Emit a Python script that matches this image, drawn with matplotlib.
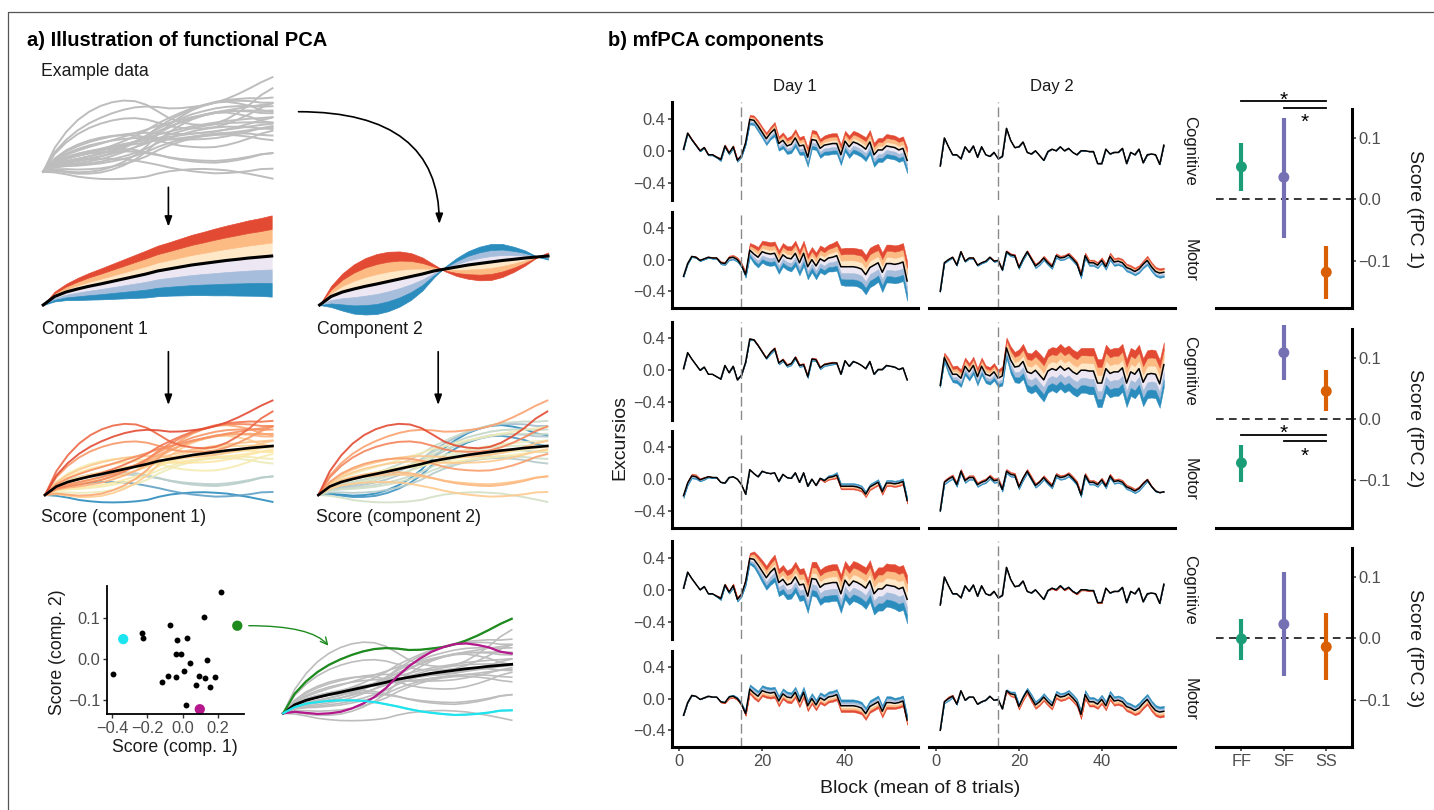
import numpy as np
import matplotlib
matplotlib.use("Agg")
import matplotlib.pyplot as plt
from matplotlib.colors import LinearSegmentedColormap, Normalize
from matplotlib.ticker import FuncFormatter

plt.rcParams["font.family"] = ["Liberation Sans", "DejaVu Sans"]

# ── Panel a: illustration data ───────────────────────────────────────────
# mean curve and the two component functions (in pixel units), 21 time steps
mean_a = [0, 8.5, 13, 16, 18.7, 21, 23.5, 26, 28.5, 31, 34, 36, 38, 40, 41.5,
          43, 44.5, 45.7, 47, 48, 49]
phi1_a = [0, 17, 28, 38, 46, 53, 60, 67, 74, 81, 87, 92, 98, 104, 109, 115,
          120, 125, 130, 134, 140]
phi2_a = [0, 70, 124, 164, 188, 200, 198, 184, 156, 110, 44, -16, -60, -92,
          -112, -120, -110, -84, -50, -4, 24]
# subject scores (scatter plot)
score1 = [-0.393, -0.228, -0.226, -0.337, -0.072, -0.032, 0.028, -0.037, -0.009,
          0.122, 0.218, 0.311, 0.139, 0.042, 0.007, -0.085, -0.037, -0.115,
          0.094, 0.126, 0.187, 0.078, 0.155, 0.018, 0.098]
score2 = [-0.037, 0.065, 0.052, 0.049, 0.084, 0.048, 0.051, 0.012, 0.012,
          0.103, 0.166, 0.082, -0.002, -0.011, -0.030, -0.041, -0.045, -0.058,
          -0.041, -0.048, -0.044, -0.063, -0.070, -0.114, -0.124]
hl_idx = [11, 24, 3]
hl_cols = ["#1E8B1E", "#B5178C", "#1DE5F0"]
band_a = [0.29, 0.15]   # outer excursion (score units) for comp 1 / comp 2

# ── Panel b: mean curves per task / day (55 blocks) ──────────────────────
blocks = np.arange(1, 56)
mean_cog_d1 = [0.02, 0.22, 0.14, 0.07, 0.00, 0.04, -0.05, -0.05, -0.08, -0.11,
               0.06, -0.03, 0.05, -0.12, -0.06, 0.10, 0.39, 0.38, 0.31, 0.23,
               0.15, 0.22, 0.27, 0.09, 0.13, 0.06, 0.08, 0.16, 0.06, 0.07,
               -0.08, 0.14, 0.13, 0.03, 0.07, 0.08, 0.09, 0.09, -0.05, 0.12,
               0.05, 0.11, 0.09, 0.06, 0.02, 0.11, -0.05, 0.01, 0.01, 0.06,
               0.05, 0.04, 0.01, 0.03, -0.12]
mean_mot_d1 = [-0.21, -0.05, 0.04, 0.03, -0.01, 0.01, 0.03, 0.02, 0.02, -0.04,
               -0.05, 0.02, 0.03, 0.00, -0.07, -0.19, 0.12, 0.07, 0.03, 0.10,
               0.08, 0.07, 0.08, -0.03, 0.06, 0.02, 0.01, 0.08, -0.04, 0.08,
               -0.09, 0.00, -0.08, 0.01, -0.02, 0.02, 0.03, 0.05, -0.09, -0.09,
               -0.09, -0.09, -0.10, -0.12, -0.19, -0.10, -0.07, -0.04, -0.16, -0.05,
               -0.05, -0.06, -0.05, -0.03, -0.27]
mean_cog_d2 = [-0.19, 0.16, 0.05, -0.05, -0.05, -0.10, 0.05, -0.02, 0.06, -0.08,
               0.05, -0.05, -0.07, -0.02, -0.10, -0.07, 0.28, 0.13, 0.04, 0.05,
               0.11, -0.02, -0.04, 0.00, -0.06, -0.12, -0.01, 0.02, 0.00, 0.05,
               0.00, 0.03, -0.02, -0.05, 0.00, 0.00, -0.01, -0.01, -0.16, -0.16,
               0.02, -0.04, -0.02, -0.02, 0.03, -0.16, -0.02, -0.05, 0.02, -0.15,
               -0.05, -0.04, -0.05, -0.17, 0.07]
mean_mot_d2 = [-0.40, -0.04, 0.00, 0.03, -0.07, 0.10, -0.02, 0.02, 0.02, -0.07,
               -0.04, -0.02, 0.03, -0.02, -0.01, -0.13, 0.10, 0.06, 0.05, -0.10,
               0.01, 0.10, 0.01, -0.08, -0.04, 0.02, -0.04, -0.09, 0.05, 0.02,
               0.03, 0.06, 0.01, -0.05, -0.20, 0.05, -0.04, -0.04, -0.07, -0.01,
               -0.09, 0.04, -0.03, -0.02, -0.04, -0.10, -0.12, -0.15, -0.12, -0.06,
               -0.01, -0.09, -0.15, -0.17, -0.16]

# outer excursion (hundredths) per fPC / task / day; sign: + means red on top
a1_cog_d1 = [1, 1, 1, 1, 1, 1, 1, 1, 1, 2, 2, 2, 2, 2, 2, 3, 6, 6, 7, 7,
             8, 8, 9, 9, 10, 10, 11, 11, 11, 12, 12, 12, 12, 12, 12, 13, 13, 13, 13, 13,
             14, 14, 14, 14, 15, 15, 15, 15, 15, 15, 15, 15, 15, 15, 16]
a1_mot_d1 = [1, 1, 1, 1, 1, 1, 1, 1, 1, 2, 2, 3, 3, 3, 3, 4, 9, 12, 13, 14,
             15, 15, 15, 15, 15, 15, 16, 16, 16, 16, 16, 16, 17, 17, 17, 17, 18, 19, 23, 24,
             24, 24, 24, 25, 25, 25, 25, 24, 25, 24, 24, 24, 24, 24, 25]
a1_cog_d2 = [0] * 55
a1_mot_d2 = [1, 1, 1, 1, 1, 1, 1, 1, 1, 1, 1, 1, 1, 1, 1, 1, 2, 2, 2, 2,
             2, 2, 2, 3, 3, 3, 3, 3, 3, 3, 3, 3, 3, 3, 4, 4, 4, 4, 4, 4,
             4, 5, 5, 5, 5, 5, 5, 5, 5, 5, 6, 6, 6, 6, 6]
a2_cog_d1 = [0, 0, 0, 0, 0, 0, 0, 0, 0, 0, 0, 0, 0, 0, 0, 0, 1, 1, 1, 1,
             1, 2, 2, 2, 2, 2, 2, 2, 2, 2, 2, 2, 2, 2, 2, 2, 2, 1, 0, 0,
             0, 0, 0, 0, 0, 0, 0, 0, 0, 0, 0, 0, 0, 0, 0]
a2_mot_d1 = [3, 3, 3, 3, 2, 2, 1, 1, 1, 0, 0, 0, 0, 0, 0, 0, 0, 0, 0, 0,
             0, 0, 0, 0, 0, 0, 0, 0, 0, 0, 0, 0, 0, -1, -2, -3, -3, -4, -4, -4,
             -4, -4, -4, -4, -4, -4, -4, -4, -4, -4, -4, -4, -4, -4, -4]
a2_cog_d2 = [2, 6, 10, 10, 11, 11, 11, 11, 11, 11, 11, 11, 11, 11, 11, 12, 13, 17, 19, 21,
             22, 24, 25, 26, 27, 27, 27, 27, 28, 28, 28, 28, 28, 28, 28, 28, 29, 29, 30, 30,
             30, 30, 30, 30, 30, 30, 30, 30, 30, 30, 30, 30, 30, 30, 28]
a2_mot_d2 = [1, 3, 3, 3, 3, 3, 3, 3, 3, 3, 3, 3, 3, 3, 3, 3, 3, 3, 3, 3,
             3, 3, 3, 3, 3, 3, 3, 3, 3, 3, 3, 3, 3, 3, 3, 3, 3, 3, 3, 3,
             3, 3, 3, 3, 3, 3, 3, 3, 3, 3, 2, 1, 1, 0, 0]
a3_cog_d1 = [0, 0, 0, 0, 0, 0, 0, 0, 1, 2, 2, 2, 3, 3, 3, 5, 7, 10, 12, 14,
             15, 16, 17, 17, 18, 18, 19, 19, 20, 20, 21, 21, 22, 22, 22, 23, 23, 23, 24, 24,
             24, 25, 25, 25, 26, 26, 26, 27, 27, 27, 27, 28, 28, 28, 30]
a3_mot_d1 = [0, 0, 0, 0, 0, 0, 0, 0, 0, -1, -1, -2, -2, -2, -2, -3, -6, -7, -7, -7,
             -7, -7, -7, -7, -7, -7, -7, -7, -7, -7, -7, -7, -7, -7, -7, -7, -7, -7, -8, -8,
             -8, -8, -8, -8, -8, -8, -8, -8, -8, -8, -8, -7, -7, -7, -6]
a3_cog_d2 = [0, 0, 0, 0, 0, 0, 0, 0, 0, 0, 0, 0, 0, 0, 0, 0, 0, 0, 0, 0,
             0, 0, 0, 0, 0, 0, 0, -1, -1, -1, -1, -1, -1, -1, -1, -1, -1, -1, -1, -1,
             0, 0, 0, 0, 0, 0, 0, 0, 0, 0, 0, 0, 0, 0, 0]
a3_mot_d2 = [0, 2, 3, 2, 1, 0, 0, 0, 0, 0, 0, 0, 0, 0, 0, 0, -2, -3, -4, -4,
             -4, -4, -5, -5, -5, -5, -5, -5, -5, -5, -5, -5, -5, -5, -6, -6, -6, -6, -6, -6,
             -6, -6, -6, -6, -6, -6, -6, -6, -7, -7, -7, -7, -7, -7, -7]

# group scores (point, lower, upper) per fPC
groups = ["FF", "SF", "SS"]
grp_cols = ["#1B9E77", "#7570B3", "#D95F02"]
fpc1_est = [0.053, 0.036, -0.119]
fpc1_lo = [0.014, -0.063, -0.163]
fpc1_hi = [0.092, 0.132, -0.076]
fpc2_est = [-0.072, 0.108, 0.045]
fpc2_lo = [-0.104, 0.063, 0.012]
fpc2_hi = [-0.042, 0.153, 0.079]
fpc3_est = [-0.001, 0.023, -0.014]
fpc3_lo = [-0.036, -0.061, -0.068]
fpc3_hi = [0.031, 0.108, 0.041]
# significance brackets (FF-SS, SF-SS): line heights and star heights
sig_pairs = [(1, 3), (2, 3)]
sig1_line = [0.160, 0.1485]
sig1_star = [0.172, 0.136]
sig2_line = [-0.027, -0.0356]
sig2_star = [-0.0138, -0.051]

# ── figure / layout helpers ──────────────────────────────────────────────
W, H = 1434, 810
fig = plt.figure(figsize=(W / 100, H / 100), dpi=100)

TXT = "#1A1A1A"
TICK_TXT = "#4D4D4D"
TICK_FS = 11.8
pos_cols = ["#FEE8C8", "#FDBB84", "#E34A33"]
neg_cols = ["#ECE7F2", "#A6BDDB", "#2B8CBE"]
levels = [0, 1 / 3, 2 / 3, 1]
fmt1 = FuncFormatter(lambda v, _: f"{v:.1f}".replace("-", "\u2212"))


def px_axes(x0, y0, x1, y1):
    return fig.add_axes([x0 / W, 1 - y1 / H, (x1 - x0) / W, (y1 - y0) / H])


def curve_axes(x0, x1, ystart):
    ax = px_axes(x0, ystart - 110, x1, ystart + 15)
    ax.set_xlim(0, 1)
    ax.set_ylim(-15, 110)
    ax.axis("off")
    return ax


def excursion_fill(ax, x, m, amp, ew=0.3):
    for i in range(3):
        ax.fill_between(x, m + levels[i] * amp, m + levels[i + 1] * amp,
                        color=pos_cols[i], lw=ew, ec=pos_cols[i])
        ax.fill_between(x, m - levels[i] * amp, m - levels[i + 1] * amp,
                        color=neg_cols[i], lw=ew, ec=neg_cols[i])


# ── Panel a ──────────────────────────────────────────────────────────────
t_a = np.linspace(0, 1, len(mean_a))
m_a = np.array(mean_a)
p1 = np.array(phi1_a)
p2 = np.array(phi2_a)
s1 = np.array(score1)
s2 = np.array(score2)
curves = m_a + s1[:, None] * p1 + s2[:, None] * p2

# example data
ax = curve_axes(43.2, 272.5, 171.7)
for c in curves:
    ax.plot(t_a, c, color="#BDBDBD", lw=1.4, clip_on=False)

# components
for phi, band, x0, x1 in [(p1, band_a[0], 43.2, 271.7), (p2, band_a[1], 319.6, 548)]:
    ax = curve_axes(x0, x1, 305)
    excursion_fill(ax, t_a, m_a, band * phi, ew=0.5)
    ax.plot(t_a, m_a, color="black", lw=2.2, clip_on=False)

# curves coloured by score
score_cmap = LinearSegmentedColormap.from_list(
    "sc", ["#2B8CBE", "#9CB9CE", "#E2EBC4", "#FDEBAA", "#FDB27A", "#F0714C", "#E34A33"])
for sv, x0, x1 in [(s1, 45, 272.5), (s2, 318.4, 547.3)]:
    ax = curve_axes(x0, x1, 495)
    norm = Normalize(sv.min(), sv.max())
    for i in np.argsort(sv):
        ax.plot(t_a, curves[i], color=score_cmap(norm(sv[i])), lw=1.4, alpha=0.9,
                clip_on=False)
    ax.plot(t_a, m_a, color="black", lw=1.9, clip_on=False)

# highlighted subjects
ax = curve_axes(283.2, 511.7, 713.3)
for c in curves:
    ax.plot(t_a, c, color="#BDBDBD", lw=1.2, clip_on=False)
ax.plot(t_a, m_a, color="black", lw=2, clip_on=False)
for i, col in zip(hl_idx, hl_cols):
    ax.plot(t_a, curves[i], color=col, lw=1.6, clip_on=False)

# scatter of scores
ax = px_axes(107.2, 586, 243.8, 714.3)
mask = np.ones(len(s1), bool)
mask[hl_idx] = False
ax.scatter(s1[mask], s2[mask], s=18, color="black", lw=0)
ax.scatter(s1[hl_idx], s2[hl_idx], s=55, c=hl_cols, lw=0)
ax.set_xlim(-0.428, 0.348)
ax.set_ylim(-0.1365, 0.18)
ax.set_xticks([-0.4, -0.2, 0.0, 0.2])
ax.set_yticks([-0.1, 0.0, 0.1])
ax.xaxis.set_major_formatter(fmt1)
ax.yaxis.set_major_formatter(fmt1)
for sp in ["top", "right"]:
    ax.spines[sp].set_visible(False)
for sp in ["left", "bottom"]:
    ax.spines[sp].set_linewidth(1.3)
ax.tick_params(length=3, width=1, color="#333333", labelcolor=TICK_TXT,
               labelsize=TICK_FS, pad=2)

# ── Panel b: excursion panels ────────────────────────────────────────────
exc_means = {("Cognitive", 1): mean_cog_d1, ("Motor", 1): mean_mot_d1,
             ("Cognitive", 2): mean_cog_d2, ("Motor", 2): mean_mot_d2}
exc_amps = [
    {("Cognitive", 1): a1_cog_d1, ("Motor", 1): a1_mot_d1,
     ("Cognitive", 2): a1_cog_d2, ("Motor", 2): a1_mot_d2},
    {("Cognitive", 1): a2_cog_d1, ("Motor", 1): a2_mot_d1,
     ("Cognitive", 2): a2_cog_d2, ("Motor", 2): a2_mot_d2},
    {("Cognitive", 1): a3_cog_d1, ("Motor", 1): a3_mot_d1,
     ("Cognitive", 2): a3_cog_d2, ("Motor", 2): a3_mot_d2},
]
day_x = [(672.3, 918.3), (929, 1175)]
lay_texts = []

for k in range(3):
    dy = 219.5 * k
    rows = [("Cognitive", 102.3 + dy, 200 + dy), ("Motor", 211.7 + dy, 308.3 + dy)]
    for task, y0, y1 in rows:
        for d, (x0, x1) in enumerate(day_x):
            ax = px_axes(x0, y0, x1, y1)
            m = np.array(exc_means[(task, d + 1)])
            a = np.array(exc_amps[k][(task, d + 1)]) / 100
            excursion_fill(ax, blocks, m, a)
            ax.plot(blocks, m, color="black", lw=1.1)
            ax.axvline(15, color="#8A8A8A", lw=1, ls=(0, (7, 3)))
            ax.set_xlim(-1.7, 57.7)
            ax.set_ylim(-0.615, 0.605)
            ax.patch.set_alpha(0)
            for sp in ["top", "right"]:
                ax.spines[sp].set_visible(False)
            ax.spines["left"].set_visible(d == 0)
            ax.spines["bottom"].set_visible(task == "Motor")
            for sp in ["left", "bottom"]:
                ax.spines[sp].set_linewidth(2.2)
            ax.tick_params(length=3, width=1.1, color="#333333", labelcolor=TICK_TXT,
                           labelsize=TICK_FS, pad=2)
            if d == 0:
                ax.set_yticks([-0.4, 0.0, 0.4])
                ax.yaxis.set_major_formatter(fmt1)
            else:
                ax.set_yticks([])
            if k == 2 and task == "Motor":
                ax.set_xticks([0, 20, 40])
            else:
                ax.set_xticks([])
        lay_texts.append((1190, (y0 + y1) / 2, task))

# ── Panel b: score panels ────────────────────────────────────────────────
xpos = np.arange(1, len(groups) + 1)
est = [fpc1_est, fpc2_est, fpc3_est]
lo = [fpc1_lo, fpc2_lo, fpc3_lo]
hi = [fpc1_hi, fpc2_hi, fpc3_hi]
sig = [(sig1_line, sig1_star), (sig2_line, sig2_star), None]

for k in range(3):
    dy = 219.5 * k
    ax = px_axes(1216, 109.3 + dy, 1351.7, 308.3 + dy)
    ax.set_xlim(0.4, 3.6)
    ax.set_ylim(-0.178, 0.147)
    ax.patch.set_alpha(0)
    ax.axhline(0, color="black", lw=1.1, ls=(0, (5, 3.5)))
    ax.vlines(xpos, lo[k], hi[k], colors=grp_cols, lw=3, clip_on=False)
    ax.scatter(xpos, est[k], s=62, c=grp_cols, lw=0, zorder=3, clip_on=False)
    if sig[k] is not None:
        lines, stars = sig[k]
        for (g0, g1), ly, sy in zip(sig_pairs, lines, stars):
            ax.plot([g0, g1], [ly, ly], color="black", lw=1.3, clip_on=False)
            ax.annotate("*", xy=((g0 + g1) / 2, sy), xytext=(0, -4.5),
                        textcoords="offset points", ha="center", va="center",
                        fontsize=15, color="black", annotation_clip=False)
    for sp in ["top", "left"]:
        ax.spines[sp].set_visible(False)
    for sp in ["right", "bottom"]:
        ax.spines[sp].set_linewidth(2.2)
    ax.yaxis.tick_right()
    ax.set_yticks([-0.1, 0.0, 0.1])
    ax.yaxis.set_major_formatter(fmt1)
    if k == 2:
        ax.set_xticks(xpos)
        ax.set_xticklabels(groups)
    else:
        ax.set_xticks([])
    ax.tick_params(length=3, width=1.1, color="#333333", labelcolor=TICK_TXT,
                   labelsize=TICK_FS, pad=2)
    lay_texts.append((1415, (109.3 + 308.3) / 2 + dy, f"Score (fPC {k + 1})"))

# ── overlay: titles, labels, arrows, frame ───────────────────────────────
lay = fig.add_axes([0, 0, 1, 1])
lay.set_xlim(0, W)
lay.set_ylim(H, 0)
lay.axis("off")

lay.plot([8, 8, W + 5], [H + 5, 12, 12], color="#555555", lw=0.9)
lay.text(26.8, 40, "a) Illustration of functional PCA", fontsize=14.5,
         fontweight="bold", ha="left", va="center", color="black")
lay.text(608, 40, "b) mfPCA components", fontsize=14.5, fontweight="bold",
         ha="left", va="center", color="black")

for x, y, s in [(41, 71.7, "Example data"), (42, 330, "Component 1"),
                (317, 330, "Component 2"), (41.3, 518, "Score (component 1)"),
                (316, 518, "Score (component 2)")]:
    lay.text(x, y, s, fontsize=12.7, ha="left", va="center", color=TXT)
lay.text(57.4, 651.7, "Score (comp. 2)", fontsize=12.7, rotation=90,
         ha="center", va="center", color=TXT)
lay.text(175, 748, "Score (comp. 1)", fontsize=12.7, ha="center", va="center",
         color=TXT)

arrow_kw = dict(arrowstyle="-|>,head_length=0.6,head_width=0.22", color="black",
                lw=1.2, shrinkA=0, shrinkB=0)
for xa, ya, yb in [(168.4, 187.3, 226.7), (168.4, 351.7, 405), (438.2, 351.7, 405)]:
    lay.annotate("", xy=(xa, yb), xytext=(xa, ya), arrowprops=arrow_kw)
lay.annotate("", xy=(439.3, 224), xytext=(298.5, 111.7),
             arrowprops=dict(arrow_kw, connectionstyle="angle3,angleA=0,angleB=90"))
lay.annotate("", xy=(328.4, 645.7), xytext=(248.8, 625.7),
             arrowprops=dict(arrowstyle="->,head_length=0.5,head_width=0.25",
                             color=hl_cols[0], lw=1.0, shrinkA=0, shrinkB=0,
                             connectionstyle="angle3,angleA=0,angleB=-50"))

lay.text(795.3, 86, "Day 1", fontsize=12, ha="center", va="center", color=TXT)
lay.text(1052, 86, "Day 2", fontsize=12, ha="center", va="center", color=TXT)
for x, y, s in lay_texts:
    fs = 12 if s in ("Cognitive", "Motor") else 14
    lay.text(x, y, s, fontsize=fs, rotation=270, ha="center", va="center", color=TXT)
lay.text(620, 437, "Excursios", fontsize=14, rotation=90, ha="center",
         va="center", color=TXT)
lay.text(920, 788.3, "Block (mean of 8 trials)", fontsize=14, ha="center",
         va="center", color=TXT)

fig.savefig("out.png", dpi=100)
